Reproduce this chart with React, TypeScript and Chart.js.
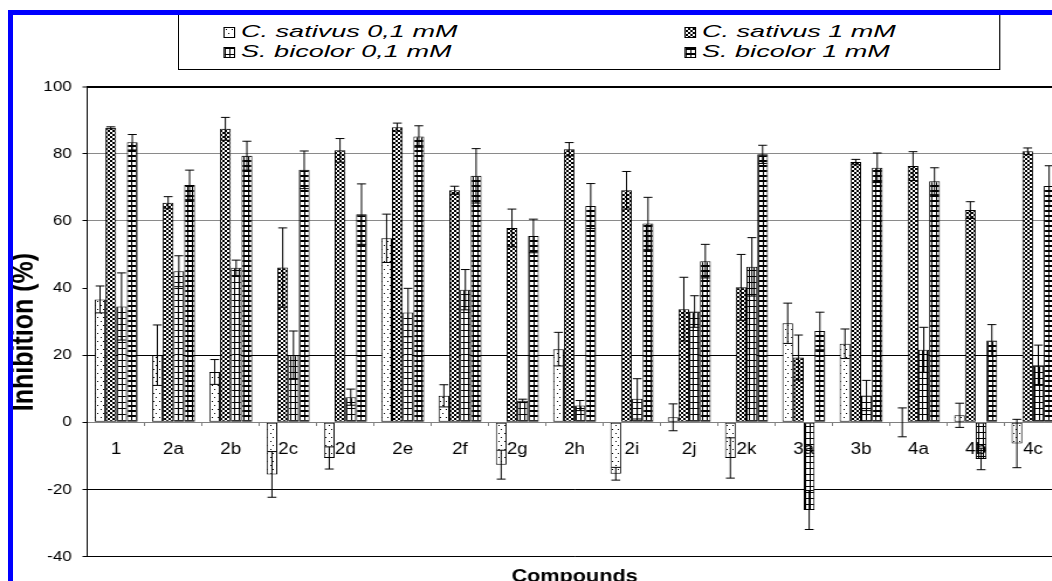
import React, { useEffect, useMemo, useRef } from 'react';
import { Chart, registerables } from 'chart.js';

Chart.register(...registerables);

const categories = ['1', '2a', '2b', '2c', '2d', '2e', '2f', '2g', '2h', '2i', '2j', '2k', '3a', '3b', '4a', '4b', '4c'];
const seriesNames = ['C. sativus 0,1 mM', 'C. sativus 1 mM', 'S. bicolor 0,1 mM', 'S. bicolor 1 mM'];

const cSativus01 = [36.6, 20, 15, -15.5, -10.6, 54.8, 7.9, -12.6, 21.8, -15.3, 1.5, -10.6, 29.5, 23.4, 0, 2.1, -6.3];
const cSativus01Err = [4, 9, 3.7, 6.8, 3.3, 7.2, 3.3, 4.3, 5, 1.9, 4, 6, 6, 4.4, 4.3, 3.6, 7.2];
const cSativus1 = [87.7, 65.4, 87.4, 46.1, 81, 87.9, 69.1, 57.9, 81.3, 69.1, 33.7, 40.2, 19.3, 77.5, 76.3, 63.2, 80.7];
const cSativus1Err = [0.3, 1.8, 3.4, 11.8, 3.5, 1.2, 1.2, 5.6, 2, 5.6, 9.5, 9.8, 6.7, 0.8, 4.3, 2.5, 1];
const sBicolor01 = [34.5, 45, 46, 20, 7.5, 32.7, 39.5, 6.4, 5, 7, 33, 46.3, -26.1, 8, 21.6, -10.9, 17];
const sBicolor01Err = [10, 4.6, 2.3, 7.2, 2.4, 7.2, 6, 0.5, 1.5, 6, 4.7, 8.7, 5.8, 4.5, 6.7, 3.2, 6];
const sBicolor1 = [83.4, 70.7, 79.4, 75.2, 62, 85.1, 73.4, 55.5, 64.4, 59.2, 48, 79.8, 27.2, 75.8, 71.8, 24.4, 70.4];
const sBicolor1Err = [2.3, 4.4, 4.3, 5.6, 9, 3.2, 8.1, 5, 6.7, 7.8, 5, 2.7, 5.6, 4.4, 4, 4.7, 6];

const yTickMin = -40;
const yTickMax = 100;
const yTickStep = 20;

const seriesValues = [cSativus01, cSativus1, sBicolor01, sBicolor1];
const seriesErrors = [cSativus01Err, cSativus1Err, sBicolor01Err, sBicolor1Err];

const S = 1.17; // horizontal stretch of the reference picture
const LEGEND_S = 1.36; // extra horizontal stretch of the legend text
const FONT = '"Liberation Sans", Arial, Helvetica, sans-serif';
const CW = 908;
const CH = 600;

type Pat = { w: number; h: number; rects: number[][] };
const PATTERNS: Pat[] = [
  { w: 5, h: 8, rects: [[1, 1, 1, 1], [3, 5, 1, 1]] },
  { w: 4, h: 4, rects: [[2, 0, 2, 2], [0, 2, 2, 2]] },
  { w: 4, h: 6, rects: [[0, 0, 1, 6], [0, 0, 4, 1]] },
  { w: 4, h: 5, rects: [[0, 0, 1, 5], [0, 0, 4, 2]] },
];

function makePatternCanvas(p: Pat) {
  const c = document.createElement('canvas');
  c.width = p.w;
  c.height = p.h;
  const g = c.getContext('2d')!;
  g.fillStyle = '#fff';
  g.fillRect(0, 0, p.w, p.h);
  g.fillStyle = '#000';
  p.rects.forEach(([x, y, w, h]) => g.fillRect(x, y, w, h));
  return c;
}

const errorBarPlugin = {
  id: 'errorBars',
  afterDatasetsDraw(chart: any) {
    const ctx = chart.ctx;
    const yScale = chart.scales.y;
    ctx.save();
    ctx.strokeStyle = '#000';
    ctx.lineWidth = 1;
    chart.data.datasets.forEach((ds: any, di: number) => {
      const meta = chart.getDatasetMeta(di);
      meta.data.forEach((bar: any, i: number) => {
        const v = ds.data[i];
        const e = ds.errors[i];
        if (!e) return;
        const x = bar.x;
        const yHi = yScale.getPixelForValue(v + e);
        const yLo = yScale.getPixelForValue(v - e);
        const hw = 3.8;
        ctx.beginPath();
        ctx.moveTo(x, yHi);
        ctx.lineTo(x, yLo);
        ctx.moveTo(x - hw, yHi);
        ctx.lineTo(x + hw, yHi);
        ctx.moveTo(x - hw, yLo);
        ctx.lineTo(x + hw, yLo);
        ctx.stroke();
      });
    });
    ctx.restore();
  },
};

export default function App() {
  const canvasRef = useRef<HTMLCanvasElement>(null);
  const swatches = useMemo(() => PATTERNS.map((p) => makePatternCanvas(p).toDataURL()), []);

  useEffect(() => {
    const canvas = canvasRef.current!;
    const ctx = canvas.getContext('2d')!;
    const fills = PATTERNS.map((p) => ctx.createPattern(makePatternCanvas(p), 'repeat')!);
    const chart = new Chart(canvas, {
      type: 'bar',
      data: {
        labels: categories,
        datasets: seriesNames.map((name, i) => ({
          label: name,
          data: seriesValues[i],
          errors: seriesErrors[i],
          backgroundColor: fills[i],
          borderColor: '#000',
          borderWidth: 1,
          borderSkipped: false,
          categoryPercentage: 0.75,
          barPercentage: 1,
        })) as any,
      },
      options: {
        responsive: false,
        animation: false,
        devicePixelRatio: 1,
        layout: { padding: { top: 86.5, right: 0.6, bottom: 0, left: 0 } },
        plugins: { legend: { display: false }, tooltip: { enabled: false } },
        scales: {
          x: {
            type: 'category',
            position: { y: 0 } as any,
            offset: true,
            grid: {
              display: true,
              drawOnChartArea: false,
              drawTicks: true,
              tickLength: 3,
              color: '#808080',
              offset: true,
            },
            border: { display: true, color: '#808080', width: 1 },
            ticks: {
              z: 1,
              color: '#000',
              font: { family: FONT, size: 16 },
              padding: 15,
              maxRotation: 0,
              autoSkip: false,
            },
          },
          x2: {
            type: 'category',
            labels: categories,
            position: 'bottom',
            grid: { display: false },
            border: { display: false },
            ticks: { display: false },
            title: {
              display: true,
              text: 'Compounds',
              color: '#000',
              font: { family: FONT, size: 18.5, weight: 'bold' },
              padding: { top: 0, bottom: 11.9 },
            },
            afterFit: (s: any) => {
              s.height = CH - 556.7;
            },
          },
          y: {
            min: yTickMin,
            max: yTickMax,
            ticks: {
              stepSize: yTickStep,
              color: '#000',
              font: { family: FONT, size: 14.5 },
              padding: 9.2,
            },
            grid: {
              color: (c: any) => {
                const v = c.tick?.value;
                if (v === 80 || v === 60) return '#8a8a8a';
                if (v === 40 || v === 0) return 'rgba(0,0,0,0)';
                return '#000';
              },
              lineWidth: (c: any) => (c.tick?.value === 100 ? 2 : 1),
              tickColor: '#000',
              tickWidth: 1,
              tickLength: 4.3,
              drawTicks: true,
            },
            border: { color: '#000', width: 1 },
            title: {
              display: true,
              text: 'Inhibition (%)   ',
              color: '#000',
              font: { family: FONT, size: 25, weight: 'bold' },
              padding: { top: 6, bottom: 0 },
            },
            afterFit: (s: any) => {
              s.width = 74.8;
            },
          },
        },
      } as any,
      plugins: [errorBarPlugin],
    });
    return () => chart.destroy();
  }, []);

  const legendLeft = 178 / S;
  const legendWidth = (1000 - 178) / S;
  const items = [
    { x: (222 - 178) / S, y: 17 },
    { x: (683 - 178) / S, y: 17 },
    { x: (222 - 178) / S, y: 37 },
    { x: (683 - 178) / S, y: 37 },
  ];
  const order = [0, 1, 2, 3];

  return (
    <div
      style={{
        position: 'fixed',
        left: 0,
        top: 0,
        width: 1052,
        height: 581,
        overflow: 'hidden',
        background: '#fff',
      }}
    >
      <div
        style={{
          position: 'absolute',
          left: 0,
          top: 0,
          width: CW,
          height: CH,
          transform: `scaleX(${S})`,
          transformOrigin: '0 0',
        }}
      >
        <canvas ref={canvasRef} width={CW} height={CH} />
        <div
          style={{
            position: 'absolute',
            left: legendLeft,
            top: 14,
            width: legendWidth,
            height: 56,
            border: '1px solid #000',
            boxSizing: 'border-box',
            background: '#fff',
          }}
        >
          {order.map((si, k) => (
            <div
              key={si}
              style={{
                position: 'absolute',
                left: items[k].x,
                top: items[k].y - 10,
                height: 20,
                display: 'flex',
                alignItems: 'center',
                whiteSpace: 'nowrap',
                fontFamily: FONT,
                fontStyle: 'italic',
                fontSize: 17,
                color: '#000',
              }}
            >
              <span
                style={{
                  display: 'inline-block',
                  width: 8,
                  height: 9,
                  border: '1px solid #000',
                  backgroundImage: `url(${swatches[si]})`,
                  marginRight: 5,
                }}
              />
              <span
                style={{
                  display: 'inline-block',
                  transform: `scaleX(${LEGEND_S})`,
                  transformOrigin: '0 50%',
                }}
              >
                {seriesNames[si]}
              </span>
            </div>
          ))}
        </div>
      </div>
      <div
        style={{
          position: 'absolute',
          left: 8,
          top: 10,
          width: 1200,
          height: 700,
          borderLeft: '5px solid #0000ff',
          borderTop: '5px solid #0000ff',
          pointerEvents: 'none',
        }}
      />
    </div>
  );
}
